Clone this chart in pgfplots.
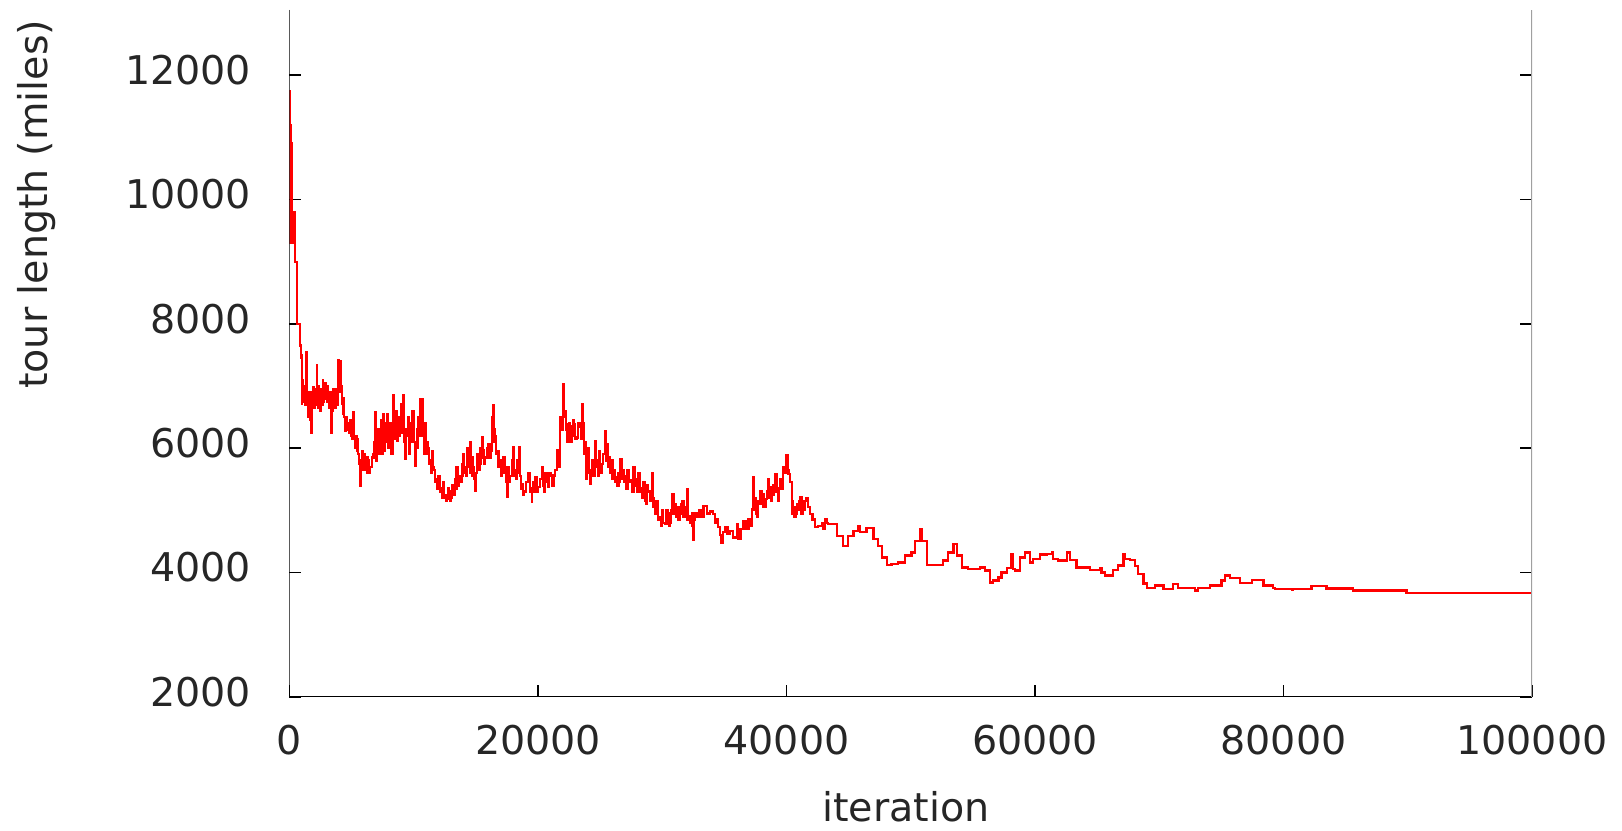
\documentclass[border=0pt]{standalone}
\usepackage{pgfplots}
\pgfplotsset{compat=1.18}
\usepackage{fontspec}
\setmainfont{DejaVu Sans}
\definecolor{axisgray}{HTML}{A0A0A0}
\definecolor{txt}{HTML}{262626}

\begin{document}
\fontsize{19.8}{24}\selectfont
\begin{tikzpicture}
\useasboundingbox (0,0) rectangle (811pt,415pt);
\begin{axis}[
  at={(144.75pt,66.65pt)}, anchor=south west,
  scale only axis, width=621.25pt, height=343.35pt,
  xmin=0, xmax=100000, ymin=2000, ymax=13050,
  xtick={0,20000,40000,60000,80000,100000},
  ytick={2000,4000,6000,8000,10000,12000},
  scaled ticks=false,
  /pgf/number format/fixed,
  /pgf/number format/precision=0,
  /pgf/number format/assume math mode=true,
  /pgf/number format/1000 sep={},
  tick align=inside, xtick pos=left, ytick pos=both,
  major tick length=6pt,
  every tick/.style={black, line width=0.9pt},
  axis line style={draw=none},
  font=\fontsize{19.8}{24}\selectfont,
  xticklabel style={anchor=center, yshift=-21.5pt, inner sep=0pt, text=txt},
  yticklabel style={anchor=east, xshift=-19pt, yshift=2.5pt, inner sep=0pt, text=txt},
  xlabel={iteration},
  xlabel style={at={(axis description cs:0.496,-0.1606)}, anchor=center, text=txt},
  ylabel={tour length (miles)},
  ylabel style={at={(axis description cs:-0.2032,0.717)}, anchor=center, text=txt},
]
\addplot[const plot, red, line width=1.15pt] table {
x y
0 11750
20 9500
40 11600
60 9300
80 11200
100 9800
120 10900
150 9400
180 10500
210 9300
250 9800
310 9500
350 9800
440 9000
630 8000
840 7650
900 7460
980 7500
1000 6720
1030 6950
1060 7100
1085 6800
1110 6750
1150 7000
1200 6980
1225 6700
1250 6760
1290 7000
1330 6900
1380 7540
1400 7100
1420 6900
1450 6700
1480 6500
1510 6800
1550 6900
1600 6600
1650 6450
1680 6750
1700 6600
1740 6900
1780 6240
1800 6500
1820 6700
1870 6850
1920 6980
1960 6700
2000 6650
2050 6950
2100 6900
2150 6700
2190 7330
2220 7000
2250 6900
2290 6700
2320 6650
2360 7000
2400 6950
2450 6700
2500 6600
2540 6950
2590 6900
2630 6700
2670 7090
2710 6750
2750 6800
2800 7000
2860 7050
2920 6800
2990 6750
3050 7000
3100 6900
3180 6650
3260 6700
3330 6900
3390 6240
3420 6600
3450 6700
3490 6900
3530 6950
3590 6700
3650 6650
3720 6950
3800 6900
3860 6700
3930 7410
3990 6950
4050 7200
4090 6900
4120 7400
4160 7000
4200 6710
4280 6550
4350 6800
4410 6500
4470 6280
4530 6450
4600 6500
4650 6300
4700 6400
4780 6250
4870 6450
4930 6200
5000 6300
5070 6150
5140 6580
5200 6200
5270 6000
5330 6200
5400 6150
5470 5950
5540 5900
5600 5750
5670 5400
5710 5700
5750 5800
5780 5650
5810 5950
5880 5650
5950 5700
6020 5900
6100 5850
6150 5650
6210 5600
6280 5850
6340 5800
6420 5600
6500 5700
6620 5850
6750 5900
6820 6100
6880 6580
6920 5900
6950 6100
6990 5800
7020 6300
7090 6000
7150 5900
7210 6300
7280 6200
7340 6450
7400 5900
7480 6200
7550 6550
7620 5950
7700 6100
7760 6400
7820 6550
7890 6150
7955 6000
8030 6400
8100 6300
8160 6050
8220 5900
8290 6400
8360 6850
8430 6150
8500 6300
8560 6600
8630 6120
8700 6350
8760 6500
8830 6200
8900 6400
8960 6700
9030 6550
9100 6250
9160 6850
9200 6100
9250 6300
9300 5830
9390 6300
9480 6200
9540 6500
9600 5900
9650 6200
9700 6400
9780 6100
9850 6200
9910 6600
9970 6450
10040 6100
10100 5720
10170 6100
10240 6300
10300 6000
10350 6500
10420 6200
10500 6790
10550 6300
10600 6500
10660 6200
10720 6790
10750 6400
10770 6200
10840 5900
10900 6400
10970 6000
11040 5900
11100 6100
11170 6000
11230 5750
11300 5800
11380 5600
11450 5950
11510 5700
11580 5650
11700 5450
11800 5500
11900 5350
12000 5550
12100 5300
12200 5350
12290 5200
12380 5450
12450 5200
12520 5250
12610 5150
12700 5180
12770 5350
12850 5300
12920 5150
13000 5200
13100 5400
13190 5350
13250 5250
13300 5500
13380 5350
13450 5700
13520 5400
13600 5550
13730 5450
13860 5750
13930 5550
13990 5900
14070 5600
14150 5700
14230 5550
14300 6000
14380 5700
14450 5850
14510 5600
14570 6100
14620 5700
14660 5850
14730 5550
14800 5700
14870 5500
14930 5320
15000 5600
15070 5900
15180 5650
15300 5750
15380 6000
15470 6170
15540 5850
15600 5960
15670 5750
15740 5850
15880 6000
16010 6070
16100 5850
16200 5950
16270 6500
16340 6100
16410 6690
16470 6300
16540 6200
16620 5900
16700 5950
16820 5700
16950 5800
17020 5550
17100 5600
17220 5850
17350 5700
17420 5450
17480 5210
17550 5500
17620 5700
17680 5450
17750 5550
17880 5800
18020 6010
18080 5550
18150 5650
18220 5500
18300 5800
18380 5600
18450 6010
18500 5750
18550 5550
18620 5350
18690 5420
18800 5250
18900 5300
19060 5450
19230 5590
19360 5300
19490 5130
19540 5350
19600 5450
19680 5300
19760 5530
19880 5300
20000 5370
20150 5500
20300 5690
20380 5400
20450 5450
20510 5300
20570 5600
20680 5450
20800 5380
20900 5600
21000 5550
21120 5400
21240 5560
21380 5650
21510 5960
21650 5700
21770 6500
21900 6300
22040 7030
22110 6500
22180 6600
22240 6300
22300 6390
22380 6100
22450 6150
22530 6400
22600 6350
22650 6100
22710 6200
22800 6450
22900 6390
23000 6150
23100 6170
23240 6400
23380 6350
23450 6150
23520 6710
23590 6300
23650 6400
23720 5900
23790 6100
23840 5500
23900 5700
23980 6000
24060 5900
24130 5600
24200 5420
24270 5650
24350 5800
24470 5550
24590 6120
24670 5700
24750 5800
24820 5550
24900 5950
25000 5600
25100 5750
25250 5900
25400 6280
25460 5800
25530 6070
25610 5700
25700 5850
25820 5600
25930 5800
26000 5500
26070 5640
26180 5450
26300 5530
26380 5400
26470 5600
26540 5450
26600 5830
26730 5500
26870 5650
26940 5450
27010 5550
27100 5350
27200 5650
27300 5450
27410 5480
27550 5300
27680 5690
27800 5400
27950 5500
28010 5300
28080 5600
28160 5300
28250 5350
28370 5200
28480 5450
28590 5150
28700 5100
28790 5400
28880 5300
29020 5150
29150 5590
29220 5200
29290 5050
29400 4950
29500 5150
29660 4850
29820 4890
29890 4750
29960 5000
30080 4800
30200 4780
30330 5000
30450 4950
30540 4750
30630 4800
30700 5000
30760 5260
30900 4950
31030 5100
31100 4900
31160 5050
31300 4850
31430 4950
31500 5100
31570 5150
31700 4900
31840 5050
31900 4950
31970 5340
32040 4850
32110 4900
32240 4800
32370 4950
32440 4750
32510 4520
32570 4850
32640 4950
32820 4900
33000 5000
33150 4900
33310 5070
33580 4950
33850 4980
34110 4940
34250 4800
34380 4860
34510 4730
34650 4600
34780 4480
34900 4650
35050 4730
35250 4620
35450 4670
35700 4560
35990 4780
36050 4600
36120 4540
36300 4700
36520 4830
36700 4700
36930 4860
37050 4750
37200 5020
37330 5530
37390 5000
37450 5200
37520 4950
37600 4890
37700 5150
37800 5100
37900 5300
38000 5260
38150 5050
38300 5180
38420 5300
38540 5500
38600 5200
38670 5370
38760 5150
38850 5240
38960 5400
39070 5580
39200 5300
39340 5150
39400 5350
39450 5500
39600 5350
39740 5690
39880 5600
40010 5880
40080 5650
40150 5580
40300 5450
40420 5150
40480 4950
40550 5050
40650 4900
40750 4940
40850 5100
40950 5000
41020 5150
41080 5210
41200 4950
41300 5000
41450 5150
41600 5200
41750 5050
41890 4940
42100 4850
42290 4730
42550 4750
42830 4800
42950 4700
43100 4850
43230 4800
43360 4780
44040 4590
44570 4430
44970 4590
45380 4670
45780 4740
45910 4650
46450 4720
46990 4540
47390 4430
47660 4240
48060 4120
48460 4130
48990 4160
49530 4270
50070 4320
50340 4510
50740 4700
50880 4510
51280 4120
52620 4190
53020 4320
53430 4460
53700 4270
54100 4080
54630 4050
55570 4080
55970 4030
56370 3840
56640 3870
57050 3920
57310 4000
57720 4070
58120 4300
58250 4050
58390 4030
58790 4240
59190 4320
59590 4160
59860 4220
60400 4290
60940 4300
61340 4320
61470 4220
61870 4190
62550 4320
62810 4200
63350 4080
64420 4040
65230 4070
65360 4000
65630 3950
66300 4040
66700 4110
67110 4300
67240 4220
67640 4200
68050 4100
68310 3970
68720 3820
68990 3750
69650 3790
70330 3735
71130 3810
71530 3750
72880 3710
73140 3750
74080 3790
75020 3870
75290 3950
75690 3910
76500 3825
77440 3880
78380 3790
79180 3750
79310 3734
80700 3720
80780 3734
82260 3777
83460 3740
85610 3707
89900 3664
100000 3664
};
\draw[black, line width=1pt] (rel axis cs:0,1) -- (rel axis cs:0,0) -- (rel axis cs:1,0);
\draw[axisgray, line width=1pt] (rel axis cs:1,0) -- (rel axis cs:1,1);
\end{axis}
\end{tikzpicture}
\end{document}
